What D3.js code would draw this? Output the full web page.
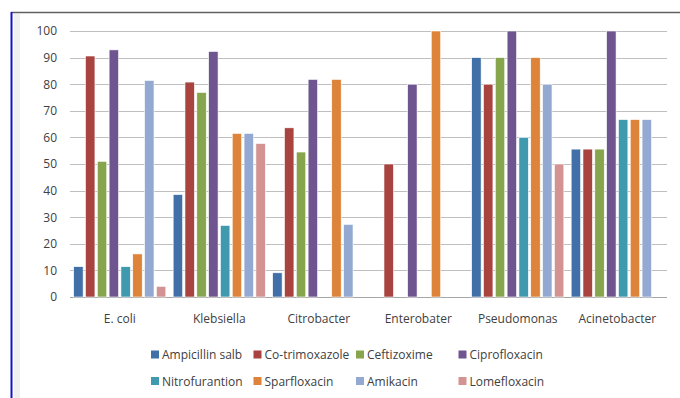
<!DOCTYPE html>
<html>
<head>
<meta charset="utf-8">
<script src="https://cdn.jsdelivr.net/npm/d3@7"></script>
<style>
  body { margin: 0; background: #fff; }
  svg text { font-family: "Open Sans", "Noto Sans", sans-serif; fill: #404040; }
</style>
</head>
<body>
<div id="chart"></div>
<script>
const organisms = ["E. coli", "Klebsiella", "Citrobacter", "Enterobater", "Pseudomonas", "Acinetobacter"]
const drugs = ["Ampicillin salb", "Co-trimoxazole", "Ceftizoxime", "Ciprofloxacin",
  "Nitrofurantion", "Sparfloxacin", "Amikacin", "Lomefloxacin"]
const drugColors = ["#4170A8", "#A8433F", "#87A54C", "#6E5590", "#3F9AB0", "#DD843A", "#93A9D1", "#D39393"]

// percent sensitive, one array per organism, in drug order
const eColi = [11.4, 90.6, 51, 92.9, 11.4, 16.2, 81.4, 4]
const klebsiella = [38.5, 80.8, 76.9, 92.3, 26.9, 61.5, 61.5, 57.7]
const citrobacter = [9.1, 63.6, 54.5, 81.8, 0, 81.8, 27.3, 0]
const enterobater = [0, 50, 0, 80, 0, 100, 0, 0]
const pseudomonas = [90, 80, 90, 100, 60, 90, 80, 50]
const acinetobacter = [55.6, 55.6, 55.6, 100, 66.7, 66.7, 66.7, 0]
const yTicks = [0, 10, 20, 30, 40, 50, 60, 70, 80, 90, 100]

const values = [eColi, klebsiella, citrobacter, enterobater, pseudomonas, acinetobacter]

const width = 680
const height = 398
const plot = { left: 70, right: 667, top: 31, bottom: 297 }

const svg = d3.select("#chart").append("svg")
  .attr("width", width)
  .attr("height", height)

// frame
svg.append("rect")
  .attr("x", 14).attr("y", 14)
  .attr("width", 6).attr("height", height - 14)
  .attr("fill", "#f0f0f0")
svg.append("line")
  .attr("x1", 11).attr("x2", width)
  .attr("y1", 12.5).attr("y2", 12.5)
  .attr("stroke", "#606060").attr("stroke-width", 1.5)
svg.append("line")
  .attr("x1", 11.5).attr("x2", 11.5)
  .attr("y1", 12).attr("y2", height)
  .attr("stroke", "#1515c8").attr("stroke-width", 2)

// scales
const x0 = d3.scaleBand()
  .domain(organisms)
  .range([plot.left, plot.right])
  .padding(0)

const x1 = d3.scaleBand()
  .domain(drugs)
  .range([0, x0.bandwidth()])
  .paddingInner(0.2)
  .paddingOuter(0.31)

const y = d3.scaleLinear()
  .domain([0, 100])
  .range([plot.bottom, plot.top])

const color = d3.scaleOrdinal().domain(drugs).range(drugColors)

// grid
svg.append("g")
  .selectAll("line")
  .data(yTicks)
  .join("line")
    .attr("x1", plot.left).attr("x2", plot.right)
    .attr("y1", d => Math.round(y(d)) + 0.5)
    .attr("y2", d => Math.round(y(d)) + 0.5)
    .attr("stroke", d => d === 0 ? "#a6a6a6" : "#bfbfbf")
    .attr("stroke-width", 1.2)

// y axis labels
const yAxis = svg.append("g")
  .attr("transform", `translate(${plot.left - 13},0)`)
  .call(d3.axisLeft(y).tickValues(yTicks).tickSize(0).tickPadding(0))
yAxis.select(".domain").remove()
yAxis.selectAll("text")
  .style("font-size", "12px")
  .attr("fill", "#404040")

// bars
const groups = svg.append("g")
  .selectAll("g")
  .data(organisms)
  .join("g")
    .attr("transform", d => `translate(${x0(d)},0)`)

groups.selectAll("rect")
  .data((d, i) => drugs.map((drug, j) => ({ drug, value: values[i][j] })))
  .join("rect")
    .attr("x", d => x1(d.drug))
    .attr("width", x1.bandwidth())
    .attr("y", d => y(d.value))
    .attr("height", d => y(0) - y(d.value))
    .attr("fill", d => color(d.drug))
    .attr("stroke", "#fff")
    .attr("stroke-width", 0.6)

// x labels
const xAxis = svg.append("g")
  .attr("transform", `translate(0,${plot.bottom + 17})`)
  .call(d3.axisBottom(x0).tickSize(0).tickPadding(0))
xAxis.select(".domain").remove()
xAxis.selectAll("text")
  .style("font-size", "12px")
  .attr("fill", "#404040")

// legend
const legend = svg.append("g")
  .selectAll("g")
  .data(drugs)
  .join("g")
    .attr("transform", (d, i) => `translate(${151 + (i % 4) * 102.5},${355 + Math.floor(i / 4) * 26.5})`)

legend.append("rect")
  .attr("x", 0).attr("y", -4.5)
  .attr("width", 8).attr("height", 8)
  .attr("fill", d => color(d))

legend.append("text")
  .attr("x", 11)
  .attr("dy", "0.35em")
  .style("font-size", "12px")
  .text(d => d)
</script>
</body>
</html>
